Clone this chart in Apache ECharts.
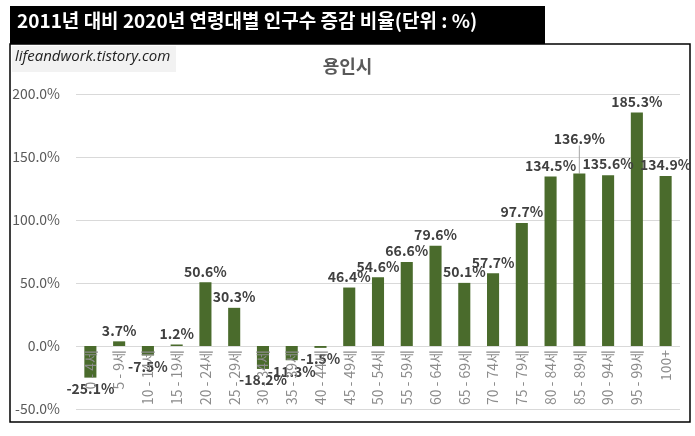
<!DOCTYPE html>
<html>
<head>
<meta charset="utf-8">
<script src="https://cdn.jsdelivr.net/npm/echarts@6/dist/echarts.min.js"></script>
<style>
  html, body { margin: 0; padding: 0; background: #fff; }
  #chart { width: 695px; height: 436px; }
</style>
</head>
<body>
<div id="chart"></div>
<script>
const ageGroups = ["0 - 4세", "5 - 9세", "10 - 14세", "15 - 19세", "20 - 24세", "25 - 29세",
  "30 - 34세", "35 - 39세", "40 - 44세", "45 - 49세", "50 - 54세", "55 - 59세",
  "60 - 64세", "65 - 69세", "70 - 74세", "75 - 79세", "80 - 84세", "85 - 89세",
  "90 - 94세", "95 - 99세", "100+"];
const changeRate = [-25.1, 3.7, -7.5, 1.2, 50.6, 30.3, -18.2, -11.3, -1.5, 46.4, 54.6, 66.6,
  79.6, 50.1, 57.7, 97.7, 134.5, 136.9, 135.6, 185.3, 134.9];
const yMin = -50, yMax = 200, yStep = 50;

const chart = echarts.init(document.getElementById("chart"));
const font = "'Noto Sans CJK KR', 'Noto Sans', sans-serif";

const gridTop = 94, gridBottom = 27;
// category labels sit just under the zero line, like the original
const plotH = 436 - gridTop - gridBottom;
const zeroOffset = plotH * (0 - yMin) / (yMax - yMin);

chart.setOption({
  textStyle: { fontFamily: font },
  graphic: [
    { type: "rect", shape: { x: 10, y: 44, width: 680, height: 378 },
      style: { fill: "#fff", stroke: "#000", lineWidth: 1.5 }, z: -10 },
    { type: "rect", shape: { x: 10, y: 6, width: 535, height: 38 },
      style: { fill: "#000" } },
    { type: "text", left: 17, top: 11,
      style: { text: "2011년 대비 2020년 연령대별 인구수 증감 비율(단위 : %)",
        fill: "#fff", font: "bold 19px " + font } },
    { type: "rect", shape: { x: 12, y: 46, width: 164, height: 26 },
      style: { fill: "#f2f2f2" } },
    { type: "text", left: 15, top: 49,
      style: { text: "lifeandwork.tistory.com", fill: "#222",
        font: "italic 15px 'Open Sans', sans-serif" } }
  ],
  title: {
    text: "용인시", left: "center", top: 52,
    textStyle: { color: "#595959", fontSize: 18, fontWeight: "bold", fontFamily: font }
  },
  grid: { left: 76, right: 15, top: gridTop, bottom: gridBottom, containLabel: false, outerBoundsMode: "none" },
  xAxis: {
    type: "category",
    data: ageGroups,
    z: 5,
    axisLine: { show: false },
    axisTick: { show: false },
    axisLabel: { rotate: 90, color: "#8c8c8c", fontSize: 14, margin: 4 - zeroOffset, interval: 0 }
  },
  yAxis: {
    type: "value",
    min: yMin, max: yMax, interval: yStep,
    axisLabel: { formatter: v => v.toFixed(1) + "%", color: "#595959", fontSize: 14, margin: 16 },
    splitLine: { lineStyle: { color: "#d9d9d9" } },
    axisLine: { show: false }
  },
  series: [{
    type: "bar",
    z: 2,
    data: changeRate.map((v, i) => (i === 17 ? { value: v, labelLine: { show: true } } : v)),
    barWidth: "42%",
    itemStyle: { color: "#4a6b2c" },
    label: {
      show: true,
      position: "outside",
      formatter: p => p.value.toFixed(1) + "%",
      color: "#404040",
      fontWeight: "bold",
      fontSize: 14,
      distance: 4
    },
    labelLine: { show: false, lineStyle: { color: "#a6a6a6", width: 1 } },
    labelLayout: p => (p.dataIndex === 17 ? { dy: -24 } : {})
  }]
});
</script>
</body>
</html>
